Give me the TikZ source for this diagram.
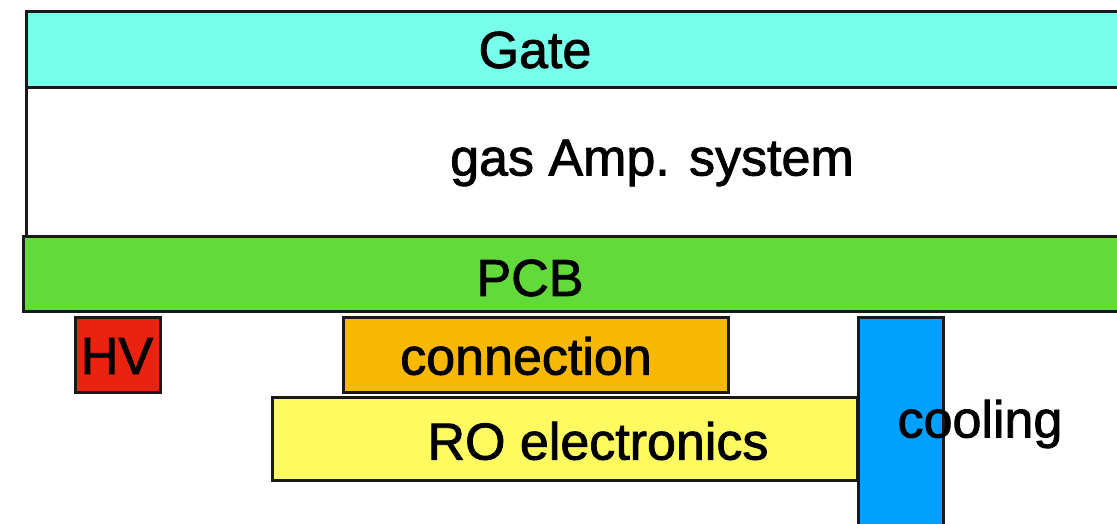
\documentclass[tikz,border=0pt]{standalone}
\usepackage{fontspec}
\setmainfont[FakeBold=1.6]{Liberation Sans}
\definecolor{gatec}{RGB}{119,255,235}
\definecolor{pcbc}{RGB}{98,218,58}
\definecolor{hvc}{RGB}{236,34,16}
\definecolor{connc}{RGB}{246,184,0}
\definecolor{roc}{RGB}{255,250,96}
\definecolor{coolc}{RGB}{0,160,255}
\tikzset{
  blk/.style={draw=black!90, line width=3pt, rectangle, inner sep=0pt, outer sep=0pt, anchor=north west},
  lbl/.style={font=\fontsize{52}{60}\selectfont, inner sep=0pt, text=black},
}
\begin{document}
\begin{tikzpicture}[x=1pt,y=-1pt]
\useasboundingbox (0,0) rectangle (1117,523);
\clip (0,0) rectangle (1117,523);
\node[blk, fill=white, minimum width=1110pt, minimum height=149pt] (gas) at (26,87) {};
\node[blk, fill=gatec, minimum width=1110pt, minimum height=76pt] (gate) at (26,11) {};
\node[blk, fill=pcbc, minimum width=1110pt, minimum height=75pt] (pcb) at (23,236) {};
\node[blk, fill=hvc, minimum width=85pt, minimum height=75pt] (hv) at (75,317) {};
\node[blk, fill=connc, minimum width=385pt, minimum height=75pt] (conn) at (343,317) {};
\node[blk, fill=roc, minimum width=585pt, minimum height=83pt] (ro) at (272,397) {};
\node[blk, fill=coolc, minimum width=85pt, minimum height=220pt] (cool) at (858,317) {};
\node[lbl] (tgate) at (535,50) {Gate};
\node[lbl] (tgas) at (652,163) {gas Amp. system};
\node[lbl] (tpcb) at (530,278) {PCB};
\node[lbl] (thv) at (117,356) {HV};
\node[lbl] (tconn) at (526,356) {connection};
\node[lbl] (tro) at (598,441) {RO electronics};
\node[lbl] (tcool) at (980,424) {cooling};
\end{tikzpicture}
\end{document}
